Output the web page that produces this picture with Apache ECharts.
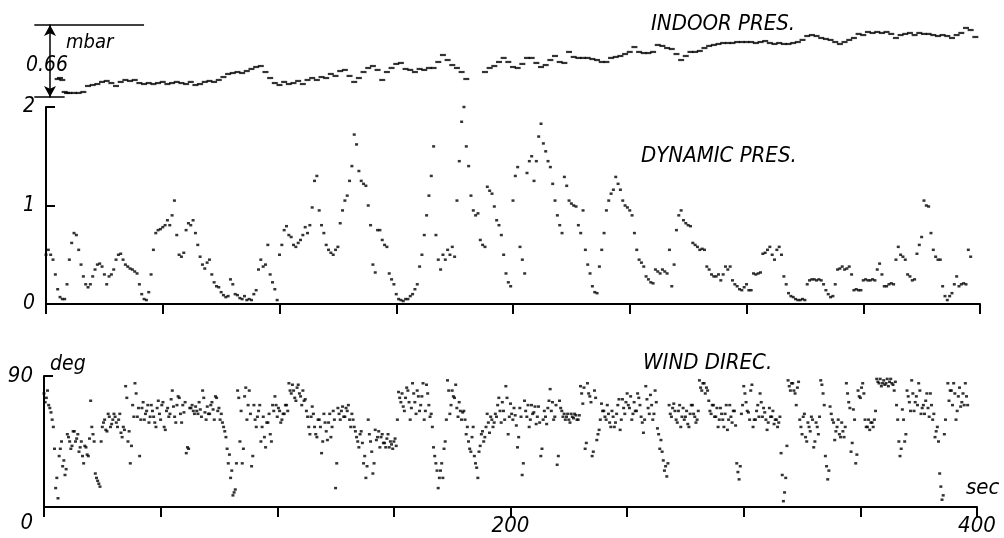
<!DOCTYPE html>
<html>
<head>
<meta charset="utf-8">
<script src="https://cdn.jsdelivr.net/npm/echarts@6/dist/echarts.min.js"></script>
<style>
  html, body { margin: 0; padding: 0; background: #fff; }
  #main { width: 1004px; height: 538px; }
</style>
</head>
<body>
<div id="main"></div>
<script>
// time axis ticks (sec)
const timeTicks = [0, 200, 400];

// indoor pressure, mbar above the lower scale mark
const indoorSec = [5, 6, 7, 8, 9, 10, 12, 14, 16, 18, 20, 22, 24, 26, 28, 30, 32, 34, 36, 38,
  40, 42, 44, 46, 48, 50, 52, 54, 56, 58, 60, 62, 64, 66, 68, 70, 72, 74, 76, 78,
  80, 82, 84, 86, 88, 90, 92, 94, 96, 98, 100, 102, 104, 106, 108, 110, 112, 114, 116, 118,
  120, 122, 124, 126, 128, 130, 132, 134, 136, 138, 140, 142, 144, 146, 148, 150, 152, 154, 156, 158,
  160, 162, 164, 166, 168, 170, 172, 174, 176, 178, 180, 188, 190, 192, 194, 196, 198,
  200, 202, 204, 206, 208, 210, 212, 214, 216, 218, 220, 222, 224, 226, 228, 230, 232, 234, 236, 238,
  240, 242, 244, 246, 248, 250, 252, 254, 256, 258, 260, 262, 264, 266, 268, 270, 272, 274, 276, 278,
  280, 282, 284, 286, 288, 290, 292, 294, 296, 298, 300, 302, 304, 306, 308, 310, 312, 314, 316, 318,
  320, 322, 324, 326, 328, 330, 332, 334, 336, 338, 340, 342, 344, 346, 348, 350, 352, 354, 356, 358,
  360, 362, 364, 366, 368, 370, 372, 374, 376, 378, 380, 382, 384, 386, 388, 390, 392, 394, 396, 398];
const indoorMbar = [0.165, 0.174, 0.156, 0.046, 0.037, 0.037, 0.037, 0.037, 0.046, 0.101, 0.110, 0.119, 0.138, 0.147, 0.128, 0.101, 0.138, 0.156, 0.147, 0.156,
  0.128, 0.119, 0.128, 0.119, 0.128, 0.138, 0.119, 0.128, 0.138, 0.128, 0.119, 0.138, 0.110, 0.119, 0.138, 0.147, 0.138, 0.156, 0.183, 0.211,
  0.220, 0.229, 0.220, 0.238, 0.257, 0.275, 0.284, 0.229, 0.174, 0.128, 0.110, 0.138, 0.119, 0.128, 0.147, 0.119, 0.156, 0.174, 0.156, 0.183,
  0.174, 0.211, 0.193, 0.238, 0.248, 0.193, 0.138, 0.174, 0.229, 0.266, 0.284, 0.248, 0.156, 0.229, 0.266, 0.303, 0.312, 0.257, 0.248, 0.229,
  0.257, 0.248, 0.266, 0.266, 0.321, 0.385, 0.339, 0.293, 0.266, 0.229, 0.165, 0.229, 0.266, 0.284, 0.321, 0.358, 0.321,
  0.275, 0.266, 0.303, 0.358, 0.358, 0.312, 0.275, 0.293, 0.339, 0.376, 0.321, 0.312, 0.413, 0.367, 0.358, 0.358, 0.358, 0.348, 0.339, 0.321,
  0.321, 0.358, 0.367, 0.376, 0.394, 0.413, 0.458, 0.413, 0.403, 0.403, 0.413, 0.477, 0.468, 0.449, 0.440, 0.394, 0.339, 0.376, 0.413, 0.413,
  0.422, 0.449, 0.468, 0.477, 0.486, 0.495, 0.495, 0.495, 0.504, 0.504, 0.504, 0.504, 0.495, 0.504, 0.513, 0.495, 0.486, 0.495, 0.486, 0.486,
  0.495, 0.504, 0.523, 0.559, 0.568, 0.559, 0.541, 0.532, 0.523, 0.504, 0.486, 0.504, 0.523, 0.541, 0.578, 0.568, 0.596, 0.587, 0.596, 0.587,
  0.596, 0.578, 0.541, 0.568, 0.578, 0.587, 0.568, 0.587, 0.578, 0.578, 0.568, 0.559, 0.568, 0.559, 0.541, 0.568, 0.587, 0.633, 0.614, 0.550];

// dynamic pressure, one reading per second from 0 s
const dynamicPres = [
  0.5, 0.55, 0.5, 0.45, 0.3, 0.15, 0.07, 0.05, 0.05, 0.2,
  0.45, 0.62, 0.72, 0.7, 0.55, 0.4, 0.28, 0.2, 0.17, 0.2,
  0.28, 0.35, 0.4, 0.41, 0.38, 0.3, 0.2, 0.28, 0.3, 0.35,
  0.45, 0.5, 0.51, 0.45, 0.4, 0.38, 0.36, 0.35, 0.33, 0.31,
  0.2, 0.1, 0.05, 0.04, 0.12, 0.3, 0.55, 0.72, 0.75, 0.76,
  0.78, 0.8, 0.85, 0.8, 0.9, 1.05, 0.7, 0.5, 0.48, 0.52,
  0.75, 0.82, 0.8, 0.85, 0.72, 0.6, 0.48, 0.4, 0.36, 0.42,
  0.45, 0.3, 0.22, 0.18, 0.17, 0.12, 0.09, 0.07, 0.08, 0.25,
  0.2, 0.1, 0.09, 0.06, 0.05, 0.08, 0.04, 0.05, 0.04, 0.1,
  0.14, 0.35, 0.45, 0.38, 0.4, 0.6, 0.3, 0.22, 0.15, 0.04,
  0.5, 0.6, 0.75, 0.79, 0.7, 0.68, 0.6, 0.58, 0.62, 0.65,
  0.7, 0.78, 0.72, 0.8, 0.98, 1.25, 1.3, 0.95, 0.8, 0.72,
  0.6, 0.55, 0.52, 0.5, 0.55, 0.58, 0.82, 0.95, 1.05, 1.1,
  1.25, 1.4, 1.72, 1.62, 1.35, 1.25, 1.22, 1.2, 1.0, 0.8,
  0.4, 0.32, 0.75, 0.75, 0.65, 0.6, 0.58, 0.31, 0.25, 0.2,
  0.1, 0.05, 0.04, 0.03, 0.05, 0.05, 0.08, 0.1, 0.15, 0.2,
  0.38, 0.5, 0.7, 0.9, 1.1, 1.3, 1.6, 0.7, 0.45, 0.35,
  0.5, 0.45, 0.55, 0.5, 0.58, 0.48, 1.05, 1.45, 1.85, 2.0,
  1.6, 1.4, 1.1, 0.95, 0.9, 0.92, 0.65, 0.6, 0.58, 1.19,
  1.15, 1.12, 0.99, 0.85, 0.8, 0.7, 0.5, 0.31, 0.22, 0.18,
  1.05, 1.3, 1.39, 0.58, 0.45, 0.31, 1.33, 1.45, 1.5, 1.25,
  1.45, 1.7, 1.83, 1.63, 1.55, 1.45, 1.39, 1.22, 1.05, 0.9,
  0.8, 0.72, 1.29, 1.2, 1.05, 1.02, 1.0, 0.99, 0.8, 0.72,
  0.95, 0.55, 0.4, 0.31, 0.18, 0.12, 0.11, 0.38, 0.55, 0.72,
  0.95, 1.05, 1.12, 1.16, 1.29, 1.22, 1.16, 1.05, 1.0, 0.98,
  0.95, 0.9, 0.72, 0.55, 0.45, 0.42, 0.38, 0.28, 0.25, 0.22,
  0.21, 0.35, 0.33, 0.31, 0.35, 0.33, 0.31, 0.55, 0.18, 0.4,
  0.75, 0.9, 0.95, 0.85, 0.82, 0.8, 0.79, 0.62, 0.6, 0.58,
  0.55, 0.56, 0.55, 0.38, 0.35, 0.3, 0.28, 0.28, 0.3, 0.24,
  0.3, 0.38, 0.35, 0.38, 0.24, 0.2, 0.18, 0.15, 0.14, 0.17,
  0.2, 0.14, 0.14, 0.31, 0.3, 0.31, 0.32, 0.51, 0.52, 0.55,
  0.58, 0.5, 0.45, 0.55, 0.58, 0.5, 0.28, 0.2, 0.11, 0.08,
  0.07, 0.05, 0.04, 0.04, 0.05, 0.04, 0.2, 0.24, 0.25, 0.25,
  0.24, 0.25, 0.24, 0.2, 0.14, 0.1, 0.07, 0.08, 0.2, 0.35,
  0.36, 0.38, 0.35, 0.36, 0.38, 0.3, 0.14, 0.15, 0.14, 0.14,
  0.24, 0.25, 0.24, 0.24, 0.25, 0.24, 0.35, 0.41, 0.3, 0.18,
  0.18, 0.2, 0.21, 0.2, 0.45, 0.58, 0.5, 0.48, 0.45, 0.3,
  0.28, 0.24, 0.25, 0.51, 0.6, 0.68, 1.05, 1.0, 0.99, 0.72,
  0.55, 0.48, 0.45, 0.45, 0.18, 0.08, 0.04, 0.08, 0.11, 0.2,
  0.28, 0.18, 0.2, 0.21, 0.2, 0.55, 0.48];

// wind direction (deg), readings on the whole second from 0 s
const windDir = [
  78, 75, 70, 65, 55, 13, 6, 40, 28, 22,
  50, 45, 42, 52, 47, 38, 45, 30, 41, 35,
  73, 50, 23, 18, 14, 55, 60, 52, 62, 57,
  64, 58, 60, 51, 55, 83, 45, 30, 70, 85,
  62, 35, 68, 60, 66, 58, 70, 62, 55, 73,
  60, 72, 53, 68, 64, 80, 62, 70, 75, 58,
  65, 37, 40, 68, 66, 69, 64, 67, 80, 65,
  69, 64, 72, 60, 75, 68, 64, 55, 48, 30,
  20, 8, 12, 80, 45, 30, 76, 60, 80, 28,
  70, 55, 66, 45, 62, 41, 58, 50, 70, 76,
  62, 66, 60, 64, 70, 85, 78, 80, 73, 84,
  76, 80, 74, 62, 50, 69, 55, 48, 60, 37,
  64, 52, 58, 48, 66, 13, 68, 60, 69, 62,
  66, 60, 64, 55, 48, 41, 52, 30, 20, 60,
  45, 23, 53, 48, 41, 50, 44, 47, 41, 43,
  45, 42, 79, 72, 69, 75, 80, 60, 85, 72,
  80, 66, 76, 60, 84, 70, 64, 41, 30, 13,
  25, 20, 45, 87, 64, 80, 75, 68, 72, 60,
  66, 50, 45, 38, 55, 30, 20, 42, 52, 48,
  64, 51, 60, 58, 62, 75, 58, 66, 83, 50,
  71, 60, 63, 41, 68, 22, 73, 62, 55, 70,
  65, 57, 69, 35, 60, 62, 68, 81, 72, 62,
  29, 73, 66, 64, 62, 60, 64, 61, 63, 60,
  83, 71, 40, 85, 76, 35, 80, 46, 53, 71,
  66, 60, 64, 55, 62, 58, 70, 53, 74, 64,
  78, 68, 60, 72, 66, 75, 62, 51, 83, 68,
  77, 60, 80, 54, 40, 38, 25, 21, 70, 62,
  71, 60, 66, 55, 68, 62, 57, 64, 70, 62,
  60, 87, 80, 85, 82, 73, 64, 70, 62, 55,
  68, 60, 64, 53, 70, 58, 66, 30, 19, 64,
  83, 72, 65, 80, 55, 60, 70, 78, 62, 65,
  53, 68, 62, 57, 60, 58, 37, 4, 20, 87,
  80, 85, 78, 82, 60, 50, 64, 45, 55, 62,
  41, 58, 50, 87, 78, 35, 19, 69, 60, 46,
  55, 50, 58, 48, 85, 72, 38, 67, 30, 80,
  75, 85, 60, 55, 53, 58, 60, 88, 85, 83,
  87, 85, 83, 88, 84, 86, 60, 35, 67, 45,
  80, 72, 87, 66, 76, 85, 64, 70, 73, 68,
  78, 60, 48, 55, 23, 5, 50, 92, 73, 80,
  85, 60, 76, 69, 78, 85, 70];

// wind direction (deg), readings on the half second from 0.5 s
const windDirHalf = [
  72, 80, 68, 60, 40, 20, 35, 45, 32, 26,
  48, 40, 52, 45, 50, 41, 35, 42, 36, 47,
  55, 45, 20, 16, 45, 58, 53, 64, 55, 60,
  62, 55, 64, 48, 53, 75, 52, 42, 62, 78,
  68, 60, 72, 64, 70, 62, 66, 58, 68, 64,
  70, 55, 66, 62, 74, 69, 58, 76, 64, 70,
  72, 41, 68, 70, 64, 66, 72, 62, 75, 60,
  64, 70, 67, 76, 66, 60, 58, 52, 40, 36,
  25, 10, 30, 75, 66, 40, 82, 70, 64, 35,
  60, 62, 70, 55, 48, 58, 64, 45, 66, 70,
  68, 58, 64, 70, 66, 80, 84, 75, 82, 78,
  70, 73, 66, 55, 62, 64, 50, 60, 55, 45,
  58, 46, 64, 55, 60, 30, 64, 66, 62, 68,
  70, 55, 60, 52, 45, 50, 44, 35, 28, 50,
  38, 30, 46, 52, 48, 44, 41, 50, 45, 40,
  47, 60, 75, 78, 66, 82, 72, 68, 78, 64,
  76, 70, 85, 66, 78, 62, 55, 35, 25, 20,
  30, 40, 60, 80, 70, 76, 84, 62, 66, 65,
  60, 55, 40, 48, 35, 27, 38, 50, 45, 55,
  58, 62, 55, 64, 70, 66, 72, 60, 75, 62,
  64, 68, 56, 48, 62, 30, 66, 70, 60, 64,
  69, 62, 58, 40, 66, 57, 73, 66, 60, 70,
  35, 68, 62, 60, 64, 58, 62, 64, 60, 63,
  78, 82, 44, 78, 72, 38, 75, 50, 60, 66,
  62, 70, 58, 66, 55, 64, 74, 60, 68, 72,
  70, 76, 64, 66, 78, 70, 58, 60, 74, 64,
  70, 64, 72, 50, 46, 32, 28, 30, 64, 68,
  66, 58, 70, 62, 60, 66, 55, 70, 64, 58,
  66, 82, 85, 78, 80, 66, 70, 62, 68, 60,
  64, 55, 70, 60, 62, 66, 56, 24, 28, 70,
  78, 66, 60, 84, 60, 66, 62, 72, 68, 60,
  58, 62, 66, 60, 55, 62, 22, 10, 42, 83,
  85, 80, 70, 86, 55, 62, 48, 58, 52, 60,
  45, 55, 62, 84, 70, 28, 25, 64, 58, 52,
  60, 48, 52, 55, 78, 68, 44, 60, 36, 76,
  82, 78, 55, 60, 58, 55, 66, 86, 88, 85,
  84, 88, 86, 85, 80, 70, 45, 40, 60, 50,
  76, 66, 78, 72, 70, 80, 68, 64, 78, 62,
  70, 64, 52, 45, 14, 8, 60, 85, 80, 70,
  78, 66, 82, 72, 70, 76];

const ink = "#000";
const font = "'DejaVu Sans Condensed', 'DejaVu Sans', sans-serif";
const txt = (size) => ({ color: ink, fontFamily: font, fontStyle: "italic", fontSize: size, fontWeight: "normal" });

const timeAxis = (grid, showLabels) => ({
  type: "value", gridIndex: grid, min: 0, max: 400, interval: 50,
  axisLine: { show: true, onZero: false, lineStyle: { color: ink, width: 2 } },
  axisTick: { show: true, inside: false, length: 10, lineStyle: { color: ink, width: 2 } },
  axisLabel: {
    show: showLabels, margin: 8, ...txt(22),
    formatter: (v) => (timeTicks.includes(v) && v > 0 ? String(v) : "")
  },
  splitLine: { show: false }
});

const chart = echarts.init(document.getElementById("main"));
chart.setOption({
  animation: false,
  backgroundColor: "#fff",
  title: [
    { text: "INDOOR PRES.", left: 646, top: 8, textStyle: txt(22) },
    { text: "DYNAMIC PRES.", left: 636, top: 140, textStyle: txt(22) },
    { text: "WIND DIREC.", left: 638, top: 347, textStyle: txt(22) },
    { text: "mbar", left: 61, top: 28, textStyle: txt(20) },
    { text: "0.66", left: 21, top: 50, textStyle: txt(21) },
    { text: "deg", left: 45, top: 349, textStyle: txt(21) },
    { text: "sec", left: 961, top: 472, textStyle: txt(22) }
  ],
  grid: [
    { left: 34.3, width: 945.7, top: 25, height: 72 },
    { left: 46, width: 934, top: 107, height: 197 },
    { left: 44, width: 933, top: 376, height: 131 }
  ],
  xAxis: [
    { type: "value", gridIndex: 0, min: -5, max: 400, show: false },
    timeAxis(1, false),
    timeAxis(2, true)
  ],
  yAxis: [
    {
      type: "value", gridIndex: 0, min: 0, max: 0.66, offset: -15.7,
      axisLine: { show: true, symbol: ["arrow", "arrow"], symbolSize: [9, 11], lineStyle: { color: ink, width: 1.5 } },
      axisTick: { show: false }, axisLabel: { show: false }, splitLine: { show: false }
    },
    {
      type: "value", gridIndex: 1, min: 0, max: 2, interval: 1,
      axisLine: { show: true, lineStyle: { color: ink, width: 2 } },
      axisTick: { show: true, inside: true, length: 9, lineStyle: { color: ink, width: 2 } },
      axisLabel: { margin: 11, ...txt(21) },
      splitLine: { show: false }
    },
    {
      type: "value", gridIndex: 2, min: 0, max: 90, interval: 90,
      axisLine: { show: true, lineStyle: { color: ink, width: 2 } },
      axisTick: { show: true, inside: true, length: 9, lineStyle: { color: ink, width: 2 } },
      axisLabel: {
        margin: 11, ...txt(22),
        formatter: (v) => (v === 0 ? "{low|0}" : String(v)),
        rich: { low: { ...txt(22), padding: [32, 0, 0, 0] } }
      },
      splitLine: { show: false }
    }
  ],
  series: [
    {
      name: "Indoor pressure", type: "scatter", xAxisIndex: 0, yAxisIndex: 0, clip: false,
      symbol: "rect", symbolSize: [6, 2.2],
      itemStyle: { color: ink },
      data: indoorSec.map((t, i) => [t, indoorMbar[i]]),
      markLine: {
        silent: true, symbol: "none", label: { show: false },
        lineStyle: { color: ink, width: 1.5, type: "solid" },
        data: [
          [{ coord: [-5, 0.66] }, { coord: [42, 0.66] }],
          [{ coord: [-5, 0] }, { coord: [8, 0] }]
        ]
      }
    },
    {
      name: "Dynamic pressure", type: "scatter", xAxisIndex: 1, yAxisIndex: 1,
      symbol: "rect", symbolSize: [3, 2.5],
      itemStyle: { color: ink },
      data: dynamicPres.map((v, i) => [i, v])
    },
    {
      name: "Wind direction", type: "scatter", xAxisIndex: 2, yAxisIndex: 2,
      symbol: "rect", symbolSize: [3, 2.5],
      itemStyle: { color: ink },
      data: windDir.map((v, i) => [i, v]).concat(windDirHalf.map((v, i) => [i + 0.5, v]))
    }
  ]
});
</script>
</body>
</html>
